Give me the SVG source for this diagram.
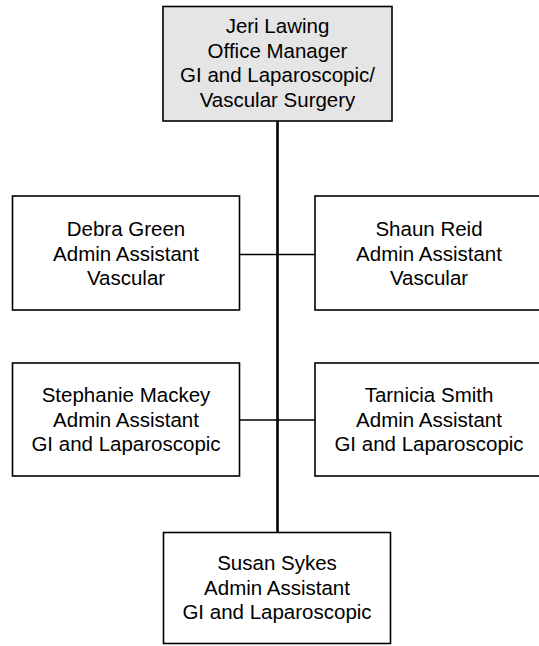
<svg xmlns="http://www.w3.org/2000/svg" width="539" height="646" viewBox="0 0 539 646">
<style>
.box{fill:#ffffff;stroke:#000000;stroke-width:1.6}
.top{fill:#e5e5e5}
.t{font-family:"Liberation Sans",Arial,sans-serif;font-size:20.5px;fill:#000000;text-anchor:middle}
.c{stroke:#000000;fill:none}
</style>
<rect width="539" height="646" fill="#ffffff"/>
<g id="connectors">
<line class="c" x1="277.5" y1="121" x2="277.5" y2="532" stroke-width="2.6"/>
<line class="c" x1="239.5" y1="254.5" x2="315" y2="254.5" stroke-width="1.6"/>
<line class="c" x1="239.5" y1="420" x2="315" y2="420" stroke-width="1.6"/>
</g>
<g id="jeri">
<rect class="box top" x="163" y="6.5" width="229" height="114.5"/>
<text class="t" x="277.5" y="33">Jeri Lawing</text>
<text class="t" x="277.5" y="57.5">Office Manager</text>
<text class="t" x="277.5" y="82">GI and Laparoscopic/</text>
<text class="t" x="277.5" y="106.5">Vascular Surgery</text>
</g>
<g id="debra">
<rect class="box" x="12.5" y="196" width="227" height="114"/>
<text class="t" x="126" y="236">Debra Green</text>
<text class="t" x="126" y="260.5">Admin Assistant</text>
<text class="t" x="126" y="285">Vascular</text>
</g>
<g id="shaun">
<rect class="box" x="315" y="196" width="228" height="114"/>
<text class="t" x="429" y="236">Shaun Reid</text>
<text class="t" x="429" y="260.5">Admin Assistant</text>
<text class="t" x="429" y="285">Vascular</text>
</g>
<g id="stephanie">
<rect class="box" x="12.5" y="363" width="227" height="113"/>
<text class="t" x="126" y="402">Stephanie Mackey</text>
<text class="t" x="126" y="426.5">Admin Assistant</text>
<text class="t" x="126" y="451">GI and Laparoscopic</text>
</g>
<g id="tarnicia">
<rect class="box" x="315" y="363" width="228" height="113"/>
<text class="t" x="429" y="402">Tarnicia Smith</text>
<text class="t" x="429" y="426.5">Admin Assistant</text>
<text class="t" x="429" y="451">GI and Laparoscopic</text>
</g>
<g id="susan">
<rect class="box" x="163.5" y="532.5" width="227" height="111"/>
<text class="t" x="277" y="570">Susan Sykes</text>
<text class="t" x="277" y="594.5">Admin Assistant</text>
<text class="t" x="277" y="619">GI and Laparoscopic</text>
</g>
</svg>
